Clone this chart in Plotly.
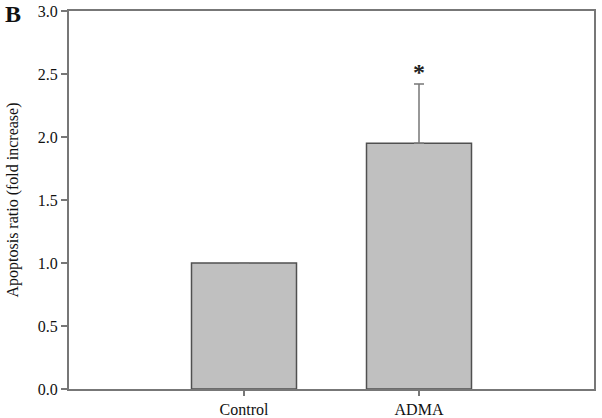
import plotly.graph_objects as go

categories = ["Control", "ADMA"]
values = [1.0, 1.95]
errors_plus = [0.0, 0.47]
sig_labels = ["", "*"]
y_ticks = [0.0, 0.5, 1.0, 1.5, 2.0, 2.5, 3.0]

fig = go.Figure()
fig.add_trace(go.Bar(
    x=[0, 1], y=values, width=0.6,
    marker=dict(color="#c0c0c0", line=dict(color="#505050", width=1.5)),
    error_y=dict(type="data", symmetric=False, array=errors_plus, arrayminus=[0, 0],
                 color="#777777", thickness=1.5, width=5),
    showlegend=False,
))
for i, (v, e, s) in enumerate(zip(values, errors_plus, sig_labels)):
    if s:
        fig.add_annotation(x=i, y=v + e, text="<b>" + s + "</b>", showarrow=False,
                           yshift=12, font=dict(family="Liberation Serif", size=24, color="#222"))

fig.add_annotation(x=0, y=1, xref="paper", yref="paper", text="<b>B</b>", showarrow=False,
                   xshift=-66, yshift=12, xanchor="left", yanchor="top",
                   font=dict(family="Liberation Serif", size=24, color="#111"))

fig.update_layout(
    width=602, height=418,
    margin=dict(l=69, r=8, t=11, b=29),
    plot_bgcolor="white", paper_bgcolor="white",
    font=dict(family="Liberation Serif", size=16, color="#111"),
)
fig.update_xaxes(range=[-1, 2], tickvals=[0, 1], ticktext=categories,
                 ticks="outside", ticklen=5, tickcolor="#777", tickwidth=1.5,
                 showline=True, linecolor="#777", linewidth=2, mirror=True,
                 showgrid=False, zeroline=False, tickfont=dict(size=16),
                 automargin=False, ticklabeloverflow="allow")
fig.update_yaxes(range=[0, 3], tickvals=y_ticks, ticktext=[f"{t:.1f}" for t in y_ticks],
                 ticks="outside", ticklen=6, tickcolor="#777", tickwidth=1.5,
                 showline=True, linecolor="#777", linewidth=2, mirror=True,
                 showgrid=False, zeroline=False, tickfont=dict(size=16),
                 automargin=False, ticklabeloverflow="allow",
                 title=dict(text="Apoptosis ratio (fold increase)", font=dict(size=16), standoff=15))

fig.write_html("out.html", config={"displayModeBar": False},
               post_script="document.body.style.margin='0';")
